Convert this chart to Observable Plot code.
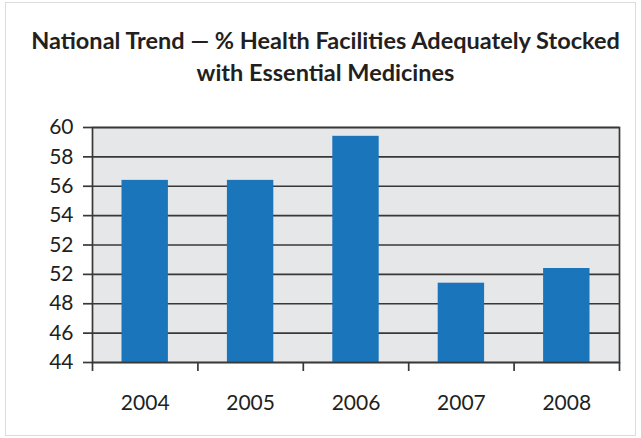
<!DOCTYPE html>
<html>
<head>
<meta charset="utf-8">
<script src="https://cdn.jsdelivr.net/npm/d3@7"></script>
<script src="https://cdn.jsdelivr.net/npm/@observablehq/plot@0.6"></script>
<style>
  html, body { margin: 0; padding: 0; background: #fff; }
  #wrap { position: absolute; left: 5px; top: 2px; width: 631px; height: 434px; border: 1px solid #dcdcdc; box-sizing: border-box; }
  #title { position: absolute; left: 5px; top: 0; width: 641px; text-align: center; font-family: Lato, "Open Sans", sans-serif; font-weight: bold; font-size: 23.5px; line-height: 32px; color: #231f20; padding-top: 24px; }
  #chart { position: absolute; left: 0; top: 105px; }
</style>
</head>
<body>
<div id="wrap"></div>
<div id="title">National Trend — % Health Facilities Adequately Stocked<br>with Essential Medicines</div>
<div id="chart"></div>
<script>
const years = [2004, 2005, 2006, 2007, 2008];
const values = [56.4, 56.4, 59.4, 49.4, 50.4];
const yTicks = [60, 58, 56, 54, 52, 50, 48, 46, 44];
const yTickLabels = ["60", "58", "56", "54", "52", "52", "48", "46", "44"];
const yBase = 44;
const xBoundaries = [2003.5, 2004.5, 2005.5, 2006.5, 2007.5, 2008.5];

const data = years.map((year, i) => ({year, value: values[i]}));
const textColor = "#231f20";
const lineColor = "#383838";

const plot = Plot.plot({
  width: 641,
  height: 333,
  marginLeft: 92,
  marginRight: 22,
  marginTop: 22,
  marginBottom: 76,
  style: {fontFamily: "Lato, 'Open Sans', sans-serif", fontSize: "21px", color: textColor, background: "transparent"},
  x: {type: "linear", domain: [2003.5, 2008.5]},
  y: {domain: [44, 60]},
  marks: [
    Plot.frame({fill: "#e6e7e9", stroke: null}),
    Plot.gridY(yTicks, {stroke: lineColor, strokeOpacity: 1, strokeWidth: 1.7}),
    Plot.rectY(data, {
      x1: d => d.year - 0.5,
      x2: d => d.year + 0.5,
      y1: yBase,
      y2: "value",
      insetLeft: 29.5,
      insetRight: 29.5,
      fill: "#1b75bb"
    }),
    Plot.frame({stroke: lineColor, strokeWidth: 1.7}),
    Plot.axisY({
      ticks: yTicks,
      tickFormat: d => yTickLabels[yTicks.indexOf(d)],
      tickSize: 9,
      tickPadding: 10,
      stroke: lineColor,
      strokeWidth: 1.7,
      fill: textColor,
      label: null
    }),
    Plot.axisX({
      ticks: xBoundaries,
      tickFormat: () => "",
      tickSize: 9,
      stroke: lineColor,
      strokeWidth: 1.7,
      label: null
    }),
    Plot.axisX({
      ticks: years,
      tickFormat: d => String(d),
      tickSize: 0,
      tickPadding: 33,
      fill: textColor,
      label: null
    })
  ]
});
document.getElementById("chart").appendChild(plot);
</script>
</body>
</html>
